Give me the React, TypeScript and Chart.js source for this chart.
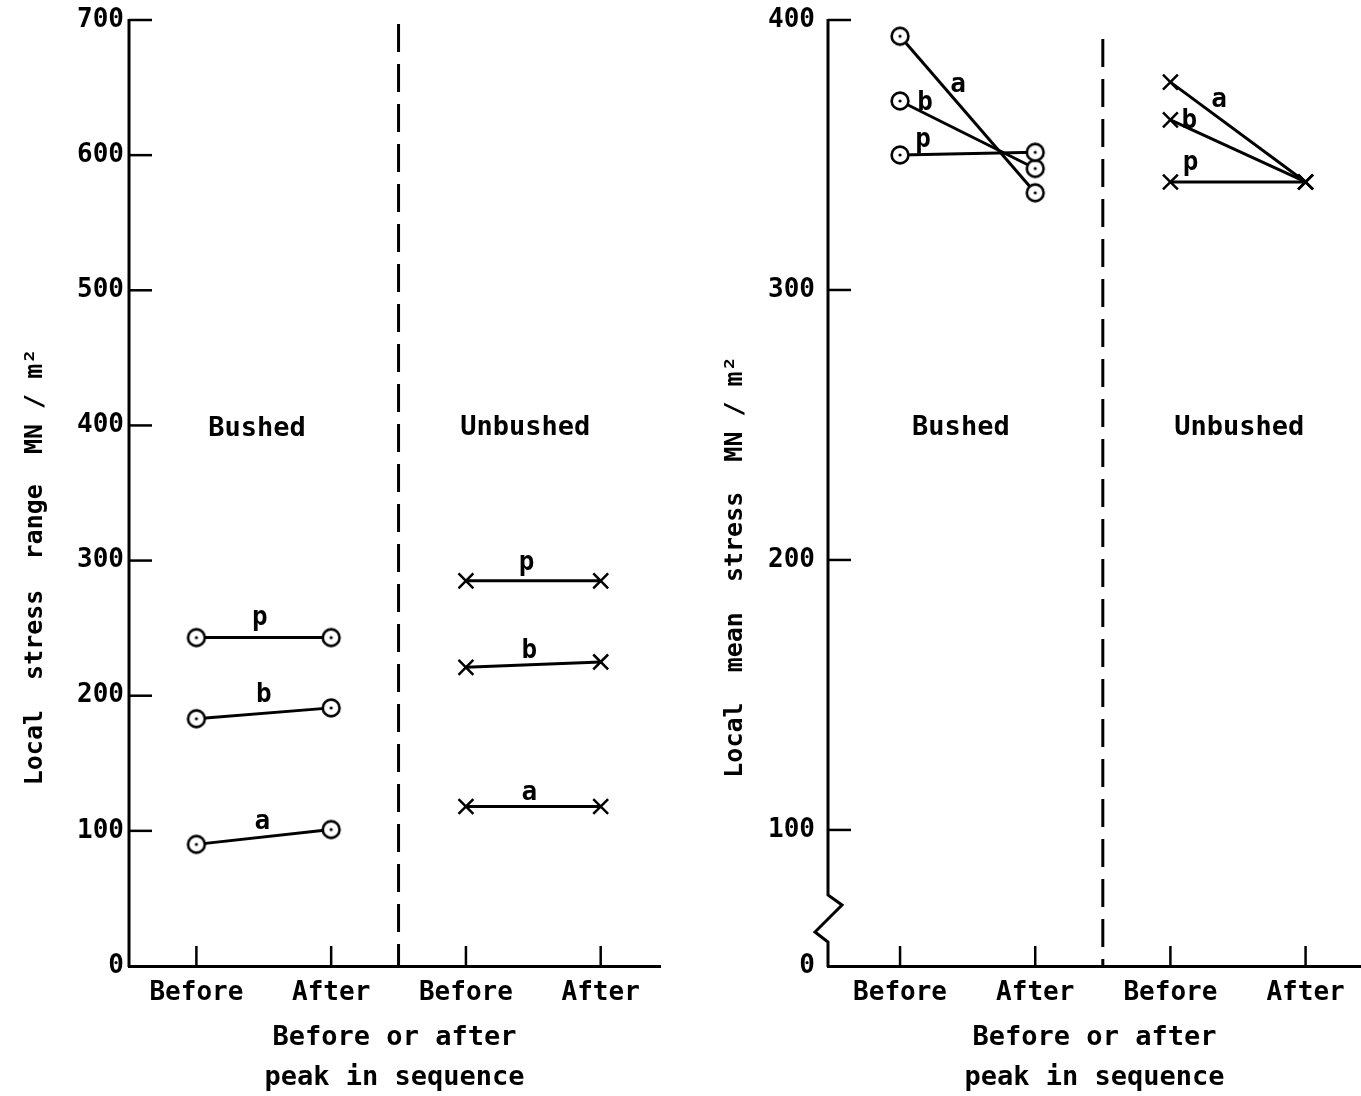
import React, { useEffect, useRef } from 'react';
import { Chart, registerables } from 'chart.js';

Chart.register(...registerables);

// ---------- data ----------
const xLabels = ['Before', 'After', 'Before', 'After'];
const xTickValues = [0, 1, 2, 3];
const seriesLetters = ['p', 'b', 'a'];

// Left panel: local stress range (MN/m^2)
const rangeTicks = [0, 100, 200, 300, 400, 500, 600, 700];
const rangeTickLabels = ['0', '100', '200', '300', '400', '500', '600', '700'];
const rangeBushedP = [243, 243];
const rangeBushedB = [183, 191];
const rangeBushedA = [90, 101];
const rangeUnbushedP = [285, 285];
const rangeUnbushedB = [221, 225];
const rangeUnbushedA = [118, 118];
const rangeLetterX = [0.47, 0.5, 0.49, 2.45, 2.47, 2.47];
const rangeLetterY = [257, 200, 106, 298, 233, 128];
const rangeRegionX = [0.45, 2.44];
const rangeRegionY = [397, 398];

// Right panel: local mean stress (MN/m^2), broken axis below 100
const meanAxisBase = 49.6; // value at which the broken axis reads "0"
const meanTicks = [meanAxisBase, 100, 200, 300, 400];
const meanTickLabels = ['0', '100', '200', '300', '400'];
const meanBushedP = [350, 351];
const meanBushedB = [370, 345];
const meanBushedA = [394, 336];
const meanUnbushedP = [340, 340];
const meanUnbushedB = [363, 340];
const meanUnbushedA = [377, 340];
const meanLetterX = [0.17, 0.185, 0.43, 2.15, 2.14, 2.36];
const meanLetterY = [355.6, 369.3, 375.9, 347, 362.6, 370.4];
const meanRegionX = [0.45, 2.51];
const meanRegionY = [249, 249];

const regionNames = ['Bushed', 'Unbushed'];

const FONT = '"DejaVu Sans Mono", "Liberation Mono", monospace';

type Panel = {
  width: number;
  yMin: number;
  yMax: number;
  xMin: number;
  xMax: number;
  yTicks: number[];
  yTickLabels: string[];
  bushed: number[][];
  unbushed: number[][];
  letterX: number[];
  letterY: number[];
  regionX: number[];
  regionY: number[];
  dividerTop: number;
  yTitle: string;
  yTitleX: number;
  axisWidth: number;
  padRight: number;
  yLabelPad: number;
  brokenAxis: boolean;
};

function makeCircle(): HTMLCanvasElement {
  const c = document.createElement('canvas');
  c.width = 24;
  c.height = 24;
  const g = c.getContext('2d')!;
  g.beginPath();
  g.arc(12, 12, 8.4, 0, Math.PI * 2);
  g.fillStyle = '#fff';
  g.fill();
  g.lineWidth = 2.6;
  g.strokeStyle = '#000';
  g.stroke();
  g.beginPath();
  g.arc(12, 12, 1.6, 0, Math.PI * 2);
  g.fillStyle = '#000';
  g.fill();
  return c;
}

function zeroPad(s: any) {
  s.paddingTop = 0;
  s.paddingBottom = 0;
  s.paddingLeft = 0;
  s.paddingRight = 0;
}

function buildChart(canvas: HTMLCanvasElement, p: Panel): Chart {
  const circle = makeCircle();
  const datasets: any[] = [];
  p.bushed.forEach((vals) => {
    datasets.push({
      data: vals.map((v, i) => ({ x: xTickValues[i], y: v })),
      showLine: true,
      borderColor: '#000',
      borderWidth: 3,
      pointStyle: circle,
      pointRadius: 9,
      pointHoverRadius: 9,
      clip: false,
    });
  });
  p.unbushed.forEach((vals) => {
    datasets.push({
      data: vals.map((v, i) => ({ x: xTickValues[i + 2], y: v })),
      showLine: true,
      borderColor: '#000',
      borderWidth: 3,
      pointStyle: 'crossRot',
      pointRadius: 10.5,
      pointHoverRadius: 10.5,
      pointBorderColor: '#000',
      pointBorderWidth: 2.5,
      pointBackgroundColor: '#000',
      clip: false,
    });
  });

  const deco = {
    id: 'deco',
    afterDraw(chart: any) {
      const ctx: CanvasRenderingContext2D = chart.ctx;
      const xs = chart.scales.x;
      const ys = chart.scales.y;
      const { left, right, top, bottom } = chart.chartArea;
      ctx.save();
      ctx.strokeStyle = '#000';
      ctx.fillStyle = '#000';
      ctx.lineCap = 'butt';

      // y axis line (with break on the broken axis)
      ctx.lineWidth = 3;
      ctx.beginPath();
      if (p.brokenAxis) {
        ctx.moveTo(left, top - 1);
        ctx.lineTo(left, bottom - 71);
        ctx.lineTo(left + 14, bottom - 61);
        ctx.lineTo(left - 13, bottom - 34);
        ctx.lineTo(left, bottom - 24);
        ctx.lineTo(left, bottom + 1);
      } else {
        ctx.moveTo(left, top - 1);
        ctx.lineTo(left, bottom + 1);
      }
      ctx.stroke();

      // inward ticks
      ctx.lineWidth = 2.5;
      ys.ticks.forEach((t: any) => {
        if (t.value <= ys.min) return;
        const py = ys.getPixelForValue(t.value);
        ctx.beginPath();
        ctx.moveTo(left, py);
        ctx.lineTo(left + 23, py);
        ctx.stroke();
      });
      xs.ticks.forEach((t: any) => {
        const px = xs.getPixelForValue(t.value);
        ctx.beginPath();
        ctx.moveTo(px, bottom);
        ctx.lineTo(px, bottom - 20);
        ctx.stroke();
      });

      // dashed divider between Bushed and Unbushed
      const dx = xs.getPixelForValue(1.5);
      ctx.lineWidth = 3;
      ctx.setLineDash([28, 12]);
      ctx.beginPath();
      ctx.moveTo(dx, ys.getPixelForValue(p.dividerTop));
      ctx.lineTo(dx, bottom);
      ctx.stroke();
      ctx.setLineDash([]);

      // series letters
      ctx.textAlign = 'center';
      ctx.textBaseline = 'middle';
      ctx.font = `bold 26px ${FONT}`;
      p.letterX.forEach((lx, i) => {
        ctx.fillText(
          seriesLetters[i % 3],
          xs.getPixelForValue(lx),
          ys.getPixelForValue(p.letterY[i])
        );
      });

      // region names
      ctx.font = `bold 27px ${FONT}`;
      p.regionX.forEach((rx, i) => {
        ctx.fillText(regionNames[i], xs.getPixelForValue(rx), ys.getPixelForValue(p.regionY[i]));
      });

      // x axis title (two lines)
      const cx = (left + right) / 2;
      ctx.font = `bold 27px ${FONT}`;
      ctx.fillText('Before or after', cx, 1038);
      ctx.fillText('peak in sequence', cx, 1078);

      // y axis title
      ctx.save();
      ctx.translate(p.yTitleX, 567);
      ctx.rotate(-Math.PI / 2);
      ctx.font = `bold 25px ${FONT}`;
      ctx.fillText(p.yTitle, 0, 0);
      ctx.restore();

      ctx.restore();
    },
  };

  return new Chart(canvas, {
    type: 'scatter',
    data: { datasets },
    plugins: [deco],
    options: {
      responsive: false,
      animation: false,
      devicePixelRatio: 1,
      layout: { autoPadding: false, padding: { top: 20, right: p.padRight, left: 0, bottom: 0 } },
      plugins: { legend: { display: false }, tooltip: { enabled: false } },
      events: [],
      scales: {
        x: {
          type: 'linear',
          min: p.xMin,
          max: p.xMax,
          afterBuildTicks: (s: any) => {
            s.ticks = xTickValues.map((v) => ({ value: v }));
          },
          afterFit: (s: any) => {
            s.height = 130;
            zeroPad(s);
          },
          ticks: {
            callback: (v: any) => xLabels[xTickValues.indexOf(Number(v))],
            font: { family: FONT, size: 26, weight: 'bold' },
            color: '#000',
            padding: 12,
            maxRotation: 0,
            autoSkip: false,
          },
          grid: { display: true, drawOnChartArea: false, drawTicks: false },
          border: { display: true, width: 3, color: '#000' },
        },
        y: {
          type: 'linear',
          min: p.yMin,
          max: p.yMax,
          afterBuildTicks: (s: any) => {
            s.ticks = p.yTicks.map((v) => ({ value: v }));
          },
          afterFit: (s: any) => {
            s.width = p.axisWidth;
            zeroPad(s);
          },
          ticks: {
            callback: (v: any) => p.yTickLabels[p.yTicks.indexOf(Number(v))],
            font: { family: FONT, size: 26, weight: 'bold' },
            color: '#000',
            padding: p.yLabelPad,
            autoSkip: false,
          },
          grid: { display: true, drawOnChartArea: false, drawTicks: false },
          border: { display: false },
        },
      },
    } as any,
  });
}

const leftPanel: Panel = {
  width: 680,
  yMin: 0,
  yMax: 700,
  xMin: -0.5,
  xMax: 3.44,
  yTicks: rangeTicks,
  yTickLabels: rangeTickLabels,
  bushed: [rangeBushedP, rangeBushedB, rangeBushedA],
  unbushed: [rangeUnbushedP, rangeUnbushedB, rangeUnbushedA],
  letterX: rangeLetterX,
  letterY: rangeLetterY,
  regionX: rangeRegionX,
  regionY: rangeRegionY,
  dividerTop: 697,
  yTitle: 'Local  stress  range  MN / m²',
  yTitleX: 35,
  axisWidth: 129,
  padRight: 20,
  yLabelPad: 5,
  brokenAxis: false,
};

const rightPanel: Panel = {
  width: 681,
  yMin: meanAxisBase,
  yMax: 400,
  xMin: -0.533,
  xMax: 3.41,
  yTicks: meanTicks,
  yTickLabels: meanTickLabels,
  bushed: [meanBushedP, meanBushedB, meanBushedA],
  unbushed: [meanUnbushedP, meanUnbushedB, meanUnbushedA],
  letterX: meanLetterX,
  letterY: meanLetterY,
  regionX: meanRegionX,
  regionY: meanRegionY,
  dividerTop: 393,
  yTitle: 'Local  mean  stress  MN / m²',
  yTitleX: 55,
  axisWidth: 148,
  padRight: 0,
  yLabelPad: 13,
  brokenAxis: true,
};

function PanelChart({ panel, left }: { panel: Panel; left: number }) {
  const ref = useRef<HTMLCanvasElement | null>(null);
  useEffect(() => {
    if (!ref.current) return;
    const chart = buildChart(ref.current, panel);
    return () => chart.destroy();
  }, [panel]);
  return (
    <canvas
      ref={ref}
      width={panel.width}
      height={1096}
      style={{ position: 'absolute', left, top: 0, width: panel.width, height: 1096 }}
    />
  );
}

export default function App() {
  return (
    <div style={{ position: 'absolute', left: 0, top: 0, width: 1361, height: 1096, background: '#fff' }}>
      <PanelChart panel={leftPanel} left={0} />
      <PanelChart panel={rightPanel} left={680} />
    </div>
  );
}
